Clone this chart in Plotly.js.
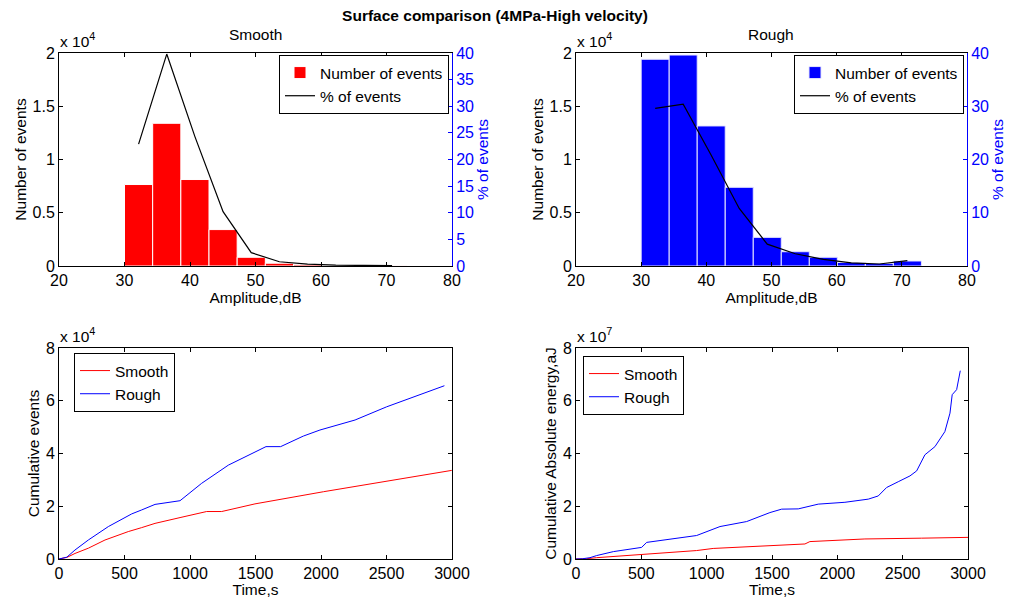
<!DOCTYPE html>
<html>
<head>
<meta charset="utf-8">
<script src="https://cdn.plot.ly/plotly-3.0.1.min.js"></script>
<style>html,body{margin:0;padding:0;background:#fff}#chart{width:1011px;height:598px}</style>
</head>
<body>
<div id="chart"></div>
<script>
// ---- data ----
const ampCenters = [32.15, 36.45, 40.75, 45.05, 49.35, 53.65, 57.95, 62.25, 66.55, 70.85];
const smoothCounts = [7650, 13400, 8120, 3420, 820, 260, 120, 50, 30, 25];
const smoothPct = [22.9, 39.8, 24.3, 10.2, 2.5, 0.8, 0.37, 0.15, 0.1, 0.08];
const roughCounts = [19410, 19810, 13150, 7390, 2690, 1340, 820, 330, 250, 470];
const roughPct = [29.6, 30.4, 20.8, 10.8, 4.1, 2.3, 1.25, 0.6, 0.38, 1.0];

const evSmoothT = [0, 60, 122, 224, 351, 529, 631, 733, 924, 1127, 1242, 1496, 2018, 2476, 2998];
const evSmoothV = [0, 600, 2100, 4100, 7200, 10400, 11900, 13500, 15700, 18000, 18000, 20900, 25500, 29300, 33600];
const evRoughT = [0, 60, 122, 224, 377, 555, 631, 733, 924, 1089, 1293, 1496, 1580, 1692, 1865, 1992, 2260, 2501, 2942];
const evRoughV = [0, 700, 3400, 7200, 12300, 17100, 18600, 20700, 22100, 28700, 35600, 40700, 42600, 42600, 46600, 48900, 52700, 57700, 65700];

const enSmoothT = [0, 80, 158, 502, 923, 1050, 1484, 1752, 1790, 2211, 2645, 3000];
const enSmoothV = [0, 1e5, 5e5, 1.8e6, 3.2e6, 4.0e6, 4.9e6, 5.7e6, 6.6e6, 7.6e6, 7.9e6, 8.2e6];
const enRoughT = [0, 50, 107, 158, 286, 502, 541, 719, 923, 1102, 1306, 1484, 1574, 1701, 1854, 2058, 2237, 2313, 2377, 2466, 2556, 2607, 2670, 2747, 2823, 2862, 2879, 2913, 2941];
const enRoughV = [0, 1e5, 5e5, 1.3e6, 2.8e6, 4.4e6, 6.3e6, 7.6e6, 8.9e6, 1.23e7, 1.42e7, 1.76e7, 1.89e7, 1.90e7, 2.08e7, 2.15e7, 2.27e7, 2.39e7, 2.71e7, 2.93e7, 3.15e7, 3.34e7, 3.95e7, 4.26e7, 4.83e7, 5.53e7, 6.23e7, 6.42e7, 7.14e7];

const ampTicks = [20, 30, 40, 50, 60, 70, 80];
const countTickVals = [0, 5000, 10000, 15000, 20000];
const countTickText = ['0', '0.5', '1', '1.5', '2'];
const timeTicks = [0, 500, 1000, 1500, 2000, 2500, 3000];
const evTickVals = [0, 20000, 40000, 60000, 80000];
const enTickVals = [0, 2e7, 4e7, 6e7, 8e7];
const cumTickText = ['0', '2', '4', '6', '8'];

// ---- styling ----
const W = 1011, H = 598;
const FONT = 'Liberation Sans, Arial, Helvetica, sans-serif';
const px = v => v / W;
const py = v => 1 - v / H;
const binWidth = 4.3;

const baseAxis = {
  showline: true, linecolor: '#000', linewidth: 1,
  ticks: 'inside', ticklen: 4, tickcolor: '#000', tickwidth: 1,
  showgrid: false, zeroline: false,
  tickfont: {family: FONT, size: 16, color: '#000'},
  title: {font: {family: FONT, size: 15.5, color: '#000'}}
};
function ax(extra) {
  const o = JSON.parse(JSON.stringify(baseAxis));
  for (const k in extra) {
    if (k === 'title') Object.assign(o.title, extra.title);
    else o[k] = extra[k];
  }
  return o;
}

const traces = [
  {type: 'bar', x: ampCenters, y: smoothCounts, width: binWidth, name: 'Number of events',
   marker: {color: '#FF0000', line: {color: '#FFFFFF', width: 1}}, xaxis: 'x', yaxis: 'y', legend: 'legend'},
  {type: 'scatter', mode: 'lines', x: ampCenters, y: smoothPct, name: '% of events',
   line: {color: '#000', width: 1.2}, xaxis: 'x', yaxis: 'y2', legend: 'legend'},
  {type: 'bar', x: ampCenters, y: roughCounts, width: binWidth, name: 'Number of events',
   marker: {color: '#0000FF', line: {color: '#E6E6FF', width: 1}}, xaxis: 'x2', yaxis: 'y3', legend: 'legend2'},
  {type: 'scatter', mode: 'lines', x: ampCenters, y: roughPct, name: '% of events',
   line: {color: '#000', width: 1.2}, xaxis: 'x2', yaxis: 'y4', legend: 'legend2'},
  {type: 'scatter', mode: 'lines', x: evSmoothT, y: evSmoothV, name: 'Smooth',
   line: {color: '#FF0000', width: 1}, xaxis: 'x3', yaxis: 'y5', legend: 'legend3'},
  {type: 'scatter', mode: 'lines', x: evRoughT, y: evRoughV, name: 'Rough',
   line: {color: '#0000FF', width: 1}, xaxis: 'x3', yaxis: 'y5', legend: 'legend3'},
  {type: 'scatter', mode: 'lines', x: enSmoothT, y: enSmoothV, name: 'Smooth',
   line: {color: '#FF0000', width: 1}, xaxis: 'x4', yaxis: 'y6', legend: 'legend4'},
  {type: 'scatter', mode: 'lines', x: enRoughT, y: enRoughV, name: 'Rough',
   line: {color: '#0000FF', width: 1}, xaxis: 'x4', yaxis: 'y6', legend: 'legend4'}
];

const legBase = {
  bgcolor: '#FFFFFF', bordercolor: '#000', borderwidth: 1,
  font: {family: FONT, size: 15.5, color: '#000'},
  xanchor: 'left', yanchor: 'top', traceorder: 'normal', tracegroupgap: 0
};
const leg = (x, y) => Object.assign({}, legBase, {x: px(x), y: py(y)});

const topY = [py(266), py(53)];
const botY = [py(559), py(348)];
const blue = '#0000FF';

const layout = {
  width: W, height: H,
  margin: {l: 0, r: 0, t: 0, b: 0},
  paper_bgcolor: '#fff', plot_bgcolor: '#fff',
  barmode: 'overlay', bargap: 0,
  font: {family: FONT, size: 15.5, color: '#000'},
  title: {text: '<b>Surface comparison (4MPa-High velocity)</b>', x: px(495), y: py(16),
          xanchor: 'center', yanchor: 'middle', xref: 'paper', yref: 'paper',
          font: {family: FONT, size: 15.5, color: '#000'}},
  xaxis: ax({domain: [px(59), px(452)], range: [20, 80], tickvals: ampTicks, anchor: 'y', mirror: 'ticks',
             title: {text: 'Amplitude,dB', standoff: 1}}),
  yaxis: ax({domain: topY, range: [0, 20000], tickvals: countTickVals, ticktext: countTickText, anchor: 'x',
             title: {text: 'Number of events', standoff: 2}}),
  yaxis2: ax({range: [0, 40], dtick: 5, overlaying: 'y', side: 'right', anchor: 'x',
              linecolor: blue, tickcolor: blue, tickfont: {family: FONT, size: 16, color: blue},
              title: {text: '% of events', standoff: 2, font: {family: FONT, size: 15.5, color: blue}}}),
  xaxis2: ax({domain: [px(576), px(967)], range: [20, 80], tickvals: ampTicks, anchor: 'y3', mirror: 'ticks',
              title: {text: 'Amplitude,dB', standoff: 1}}),
  yaxis3: ax({domain: topY, range: [0, 20000], tickvals: countTickVals, ticktext: countTickText, anchor: 'x2',
              title: {text: 'Number of events', standoff: 2}}),
  yaxis4: ax({range: [0, 40], dtick: 10, overlaying: 'y3', side: 'right', anchor: 'x2',
              linecolor: blue, tickcolor: blue, tickfont: {family: FONT, size: 16, color: blue},
              title: {text: '% of events', standoff: 2, font: {family: FONT, size: 15.5, color: blue}}}),
  xaxis3: ax({domain: [px(59), px(452)], range: [0, 3000], tickvals: timeTicks, anchor: 'y5', mirror: 'ticks',
              title: {text: 'Time,s', standoff: 1}}),
  yaxis5: ax({domain: botY, range: [0, 80000], tickvals: evTickVals, ticktext: cumTickText, anchor: 'x3', mirror: 'ticks',
              title: {text: 'Cumulative events', standoff: 2}}),
  xaxis4: ax({domain: [px(576), px(968)], range: [0, 3000], tickvals: timeTicks, anchor: 'y6', mirror: 'ticks',
              title: {text: 'Time,s', standoff: 1}}),
  yaxis6: ax({domain: botY, range: [0, 8e7], tickvals: enTickVals, ticktext: cumTickText, anchor: 'x4', mirror: 'ticks',
              title: {text: 'Cumulative Absolute energy,aJ', standoff: 2}}),
  legend: leg(279, 55),
  legend2: leg(794, 55),
  legend3: leg(74, 353),
  legend4: leg(583, 356),
  annotations: [
    {text: 'Smooth', x: px(255), y: py(35), xref: 'paper', yref: 'paper', xanchor: 'center', yanchor: 'middle', showarrow: false,
     font: {family: FONT, size: 15.5, color: '#000'}},
    {text: 'Rough', x: px(771), y: py(35), xref: 'paper', yref: 'paper', xanchor: 'center', yanchor: 'middle', showarrow: false,
     font: {family: FONT, size: 15.5, color: '#000'}},
    {text: 'x 10<sup>4</sup>', x: px(58), y: py(52), xref: 'paper', yref: 'paper', xanchor: 'left', yanchor: 'bottom', showarrow: false,
     font: {family: FONT, size: 15.5, color: '#000'}},
    {text: 'x 10<sup>4</sup>', x: px(575), y: py(52), xref: 'paper', yref: 'paper', xanchor: 'left', yanchor: 'bottom', showarrow: false,
     font: {family: FONT, size: 15.5, color: '#000'}},
    {text: 'x 10<sup>4</sup>', x: px(58), y: py(347), xref: 'paper', yref: 'paper', xanchor: 'left', yanchor: 'bottom', showarrow: false,
     font: {family: FONT, size: 15.5, color: '#000'}},
    {text: 'x 10<sup>7</sup>', x: px(575), y: py(347), xref: 'paper', yref: 'paper', xanchor: 'left', yanchor: 'bottom', showarrow: false,
     font: {family: FONT, size: 15.5, color: '#000'}}
  ]
};

Plotly.newPlot('chart', traces, layout, {staticPlot: true, displayModeBar: false});
</script>
</body>
</html>
